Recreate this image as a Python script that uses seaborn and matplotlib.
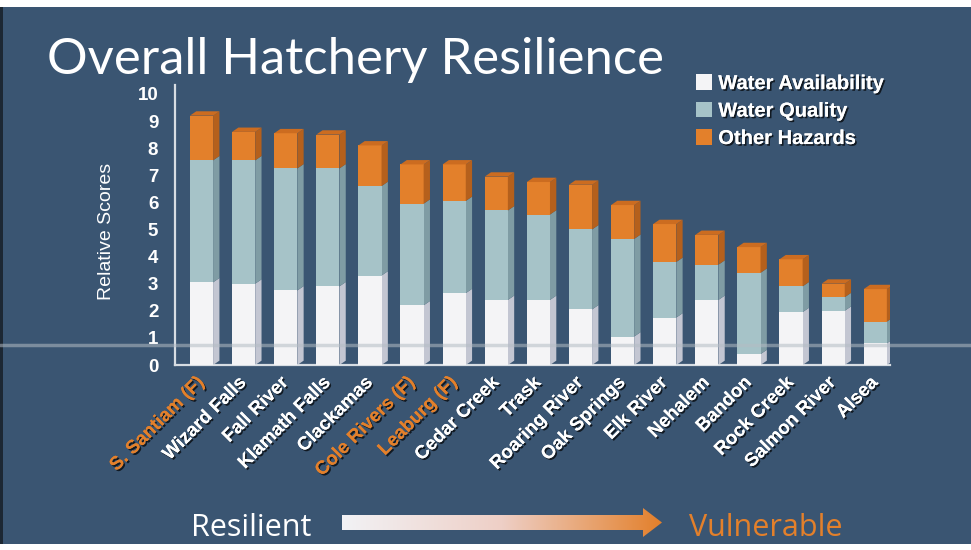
import numpy as np
import pandas as pd
import matplotlib
matplotlib.use("Agg")
import matplotlib.pyplot as plt
import matplotlib.patheffects as pe
from matplotlib.patches import Polygon, Patch, Rectangle
from matplotlib.lines import Line2D
import seaborn as sns

# values
hatcheries = ["S. Santiam (F)", "Wizard Falls", "Fall River", "Klamath Falls", "Clackamas",
              "Cole Rivers (F)", "Leaburg (F)", "Cedar Creek", "Trask", "Roaring River",
              "Oak Springs", "Elk River", "Nehalem", "Bandon", "Rock Creek",
              "Salmon River", "Alsea"]
water_availability = [3.05, 3.0, 2.75, 2.9, 3.3, 2.2, 2.65, 2.4, 2.4, 2.05, 1.05, 1.75, 2.4, 0.4, 1.95, 2.0, 0.8]
water_quality = [4.5, 4.55, 4.5, 4.35, 3.3, 3.75, 3.4, 3.3, 3.15, 2.95, 3.6, 2.05, 1.3, 3.0, 0.95, 0.5, 0.8]
other_hazards = [1.65, 1.05, 1.3, 1.25, 1.5, 1.45, 1.35, 1.25, 1.2, 1.65, 1.25, 1.4, 1.1, 0.95, 1.0, 0.5, 1.2]
flagged = ["S. Santiam (F)", "Cole Rivers (F)", "Leaburg (F)"]
y_ticks = list(range(0, 11))

BG = "#3a5572"
ORANGE = "#e3802b"
front_cols = ["#f4f4f6", "#a6c3c8", ORANGE]
side_cols = ["#c3c6d2", "#7f9ca4", "#b5601c"]
cap_col = "#cc6c20"

df = pd.DataFrame({"hatchery": hatcheries, "wa": water_availability,
                   "wq": water_quality, "oh": other_hazards})
df["lvl1"] = df["wa"]
df["lvl2"] = df["wa"] + df["wq"]
df["lvl3"] = df["lvl2"] + df["oh"]

sns.set_style("white")
plt.rcParams["font.family"] = ["Liberation Sans", "DejaVu Sans"]

fig = plt.figure(figsize=(9.71, 5.5), dpi=100)
fig.patch.set_facecolor(BG)
ax = fig.add_axes([175 / 971, 1 - 365 / 550, 715 / 971, 280 / 550])
ax.set_facecolor("none")

# stacked bars: draw tallest cumulative first, shorter ones on top
groups = []
for i, col in enumerate(["lvl3", "lvl2", "lvl1"]):
    n0 = len(ax.patches)
    sns.barplot(data=df, x="hatchery", y=col, color=front_cols[2 - i], saturation=1,
                width=0.55, ax=ax, zorder=3 + i, linewidth=0)
    groups.append(ax.patches[n0:])

# fake 3-D depth on each segment
dx, dy = 0.15, 0.16
bottoms = [np.zeros(len(df)), df["lvl1"].values, df["lvl2"].values]
tops = [df["lvl1"].values, df["lvl2"].values, df["lvl3"].values]
for k in range(3):
    for j, p in enumerate(groups[0]):
        x1 = p.get_x() + p.get_width()
        y0, y1 = bottoms[k][j], tops[k][j]
        side = Polygon([(x1, y0), (x1 + dx, y0 + dy), (x1 + dx, y1 + dy), (x1, y1)],
                       closed=True, facecolor=side_cols[k], edgecolor="none", zorder=2 + k)
        ax.add_patch(side)
        if k == 2:
            x0 = p.get_x()
            cap = Polygon([(x0, y1), (x0 + dx, y1 + dy), (x1 + dx, y1 + dy), (x1, y1)],
                          closed=True, facecolor=cap_col, edgecolor="none", zorder=6)
            ax.add_patch(cap)

ax.set_xlim(-0.63, 16.35)
ax.set_ylim(0, 10.33)
ax.set_yticks(y_ticks)
ax.set_yticklabels([str(t) for t in y_ticks], fontsize=13.5, fontweight="bold", color="white")
ax.tick_params(axis="y", length=0, pad=12)
ax.tick_params(axis="x", length=0, pad=11)
ax.set_xlabel("")
ax.set_ylabel("")
shadow = [pe.withSimplePatchShadow(offset=(1.2, -1.2), shadow_rgbFace="black", alpha=0.7), pe.Normal()]
ax.set_xticks(range(len(hatcheries)))
ax.set_xticklabels(hatcheries, rotation=45, ha="right", va="center", rotation_mode="anchor",
                   fontsize=13.5, fontweight="bold")
for lbl in ax.get_xticklabels():
    lbl.set_color(ORANGE if lbl.get_text() in flagged else "white")
    lbl.set_path_effects(shadow)

for s in ["top", "right"]:
    ax.spines[s].set_visible(False)
for s in ["left", "bottom"]:
    ax.spines[s].set_color("#d7dde3")
    ax.spines[s].set_linewidth(1.6)

fig.text(106 / 971, 1 - 231 / 550, "Relative Scores", rotation=90, ha="center", va="center",
         fontsize=14, color="white")

fig.text(47 / 971, 1 - 74 / 550, "Overall Hatchery Resilience", fontsize=36.5, color="white",
         ha="left", va="baseline", family=["Lato", "DejaVu Sans"])

handles = [Patch(facecolor=c, edgecolor="none") for c in front_cols]
leg = fig.legend(handles, ["Water Availability", "Water Quality", "Other Hazards"],
                 loc="upper left", bbox_to_anchor=(678 / 971, 1 - 56 / 550), frameon=False,
                 handlelength=0.8, handleheight=0.8, handletextpad=0.3, labelspacing=0.42,
                 prop={"family": ["Liberation Sans", "DejaVu Sans"], "weight": "bold", "size": 14.5})
for t in leg.get_texts():
    t.set_color("white")
    t.set_path_effects(shadow)

# bottom scale: Resilient -> Vulnerable
fig.text(191 / 971, 1 - 536 / 550, "Resilient", fontsize=22, color="white", ha="left", va="baseline",
         family=["Open Sans", "DejaVu Sans"])
fig.text(689 / 971, 1 - 536 / 550, "Vulnerable", fontsize=22, color=ORANGE, ha="left", va="baseline",
         family=["Open Sans", "DejaVu Sans"])

ov = fig.add_axes([0, 0, 1, 1], zorder=10)
ov.set_xlim(0, 971)
ov.set_ylim(550, 0)
ov.axis("off")
ov.patch.set_alpha(0)
arrow = Polygon([(342, 515), (643, 515), (643, 508), (662, 522.5), (643, 537), (643, 530), (342, 530)],
                closed=True, facecolor="none", edgecolor="none")
ov.add_patch(arrow)
grad = np.linspace(0, 1, 256)[None, :]
cmap = matplotlib.colors.LinearSegmentedColormap.from_list("rv", ["#f2f2f5", "#eecfc6", ORANGE])
img = ov.imshow(grad, cmap=cmap, extent=(342, 662, 537, 508), aspect="auto")
img.set_clip_path(arrow)
ov.set_xlim(0, 971)
ov.set_ylim(550, 0)

# screen glare line and page borders
ov.add_line(Line2D([0, 971], [345, 345], color="#b4bcc4", alpha=0.55, linewidth=2.5))
ov.add_patch(Rectangle((0, 0), 971, 7, facecolor="white", edgecolor="none"))
ov.add_patch(Rectangle((0, 544), 971, 6, facecolor="white", edgecolor="none"))
ov.add_patch(Rectangle((0, 7), 2.5, 537, facecolor="#1c2733", edgecolor="none"))

fig.savefig("out.png", dpi=100, facecolor=fig.get_facecolor())
